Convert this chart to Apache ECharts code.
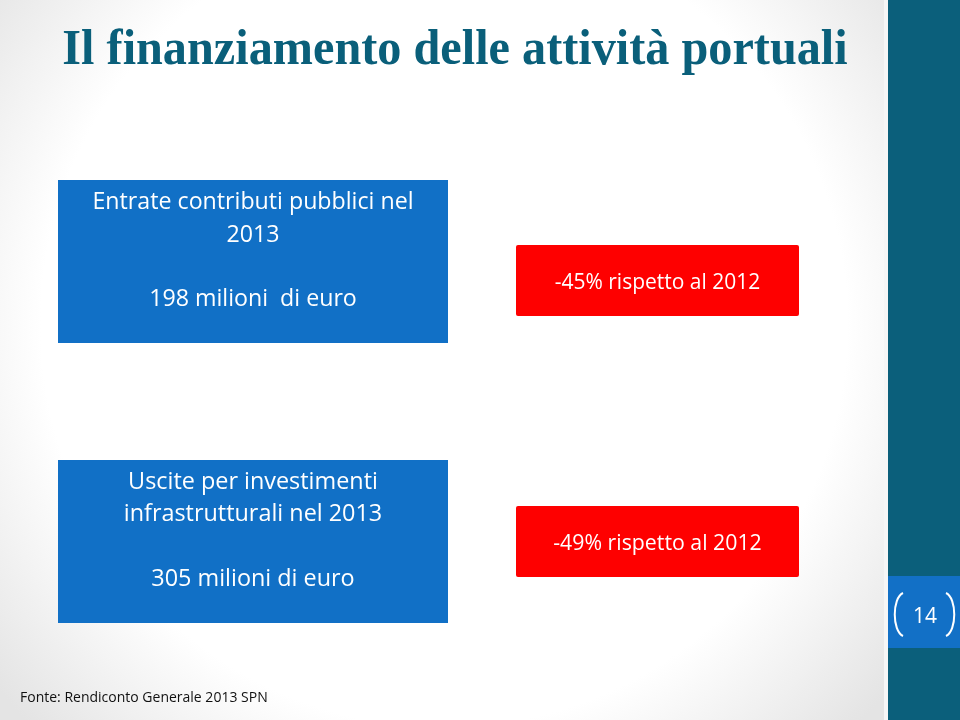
<!DOCTYPE html>
<html>
<head>
<meta charset="utf-8">
<script src="https://cdn.jsdelivr.net/npm/echarts@6/dist/echarts.min.js"></script>
<style>html,body{margin:0;padding:0;background:#fff}#c{width:960px;height:720px}</style>
</head>
<body>
<div id="c"></div>
<script>
const slideTitle = "Il finanziamento delle attività portuali";
const boxTitles = [["Entrate contributi pubblici nel", "2013"], ["Uscite per investimenti", "infrastrutturali nel 2013"]];
const amounts = [198, 305];          // milioni di euro
const amountUnits = ["milioni  di euro", "milioni di euro"];
const changes = [-45, -49];          // % rispetto al 2012
const refYear = 2012;
const source = "Fonte: Rendiconto Generale 2013 SPN";
const pageNumber = "14";

const chart = echarts.init(document.getElementById('c'), null, {renderer: 'canvas'});
const BLUE = '#1170c6', RED = '#fe0000', TEAL = '#0b5f7b';
const bodyFont = '"Open Sans", sans-serif';

const boxes = [
  {x: 58, y: 180, w: 390, h: 163, lines: [202, 235, 299], red: {x: 516, y: 245, w: 283, h: 71, ty: 283}, fs: 23.2, rfs: 21},
  {x: 58, y: 460, w: 390, h: 163, lines: [482, 514, 579], red: {x: 516, y: 506, w: 283, h: 71, ty: 544}, fs: 23.4, rfs: 21.3}
];

const elements = [
  {type: 'rect', shape: {x: 0, y: 0, width: 888, height: 720}, z: 0,
   style: {fill: {type: 'radial', x: 0.5, y: 0.45, r: 0.8,
     colorStops: [{offset: 0, color: '#ffffff'}, {offset: 0.7, color: '#ffffff'}, {offset: 1, color: '#e4e4e4'}]}}},
  {type: 'rect', shape: {x: 884, y: 0, width: 4, height: 720}, z: 1, style: {fill: '#f6f6f6'}},
  {type: 'rect', shape: {x: 888, y: 0, width: 72, height: 720}, z: 1, style: {fill: TEAL}},
  {type: 'rect', shape: {x: 888, y: 576, width: 72, height: 72}, z: 2, style: {fill: '#1270c6'}},
  {type: 'bezierCurve', z: 3, shape: {x1: 903, y1: 593, cpx1: 892, cpy1: 598, cpx2: 892, cpy2: 631, x2: 903, y2: 636},
   style: {fill: null, stroke: '#fff', lineWidth: 2}},
  {type: 'bezierCurve', z: 3, shape: {x1: 946, y1: 593, cpx1: 957, cpy1: 598, cpx2: 957, cpy2: 631, x2: 946, y2: 636},
   style: {fill: null, stroke: '#fff', lineWidth: 2}},
  {type: 'text', z: 3, x: 925, y: 617, style: {text: pageNumber, fill: '#fff', font: '21px ' + bodyFont, align: 'center', verticalAlign: 'middle'}},
  {type: 'text', z: 3, x: 455, y: 51, scaleX: 0.965, originX: 0, originY: 0,
   style: {text: slideTitle, fill: '#0a5f7a', font: 'bold 50px "Liberation Serif", serif', align: 'center', verticalAlign: 'middle'}},
  {type: 'text', z: 3, x: 20, y: 698, style: {text: source, fill: '#111', font: '14px ' + bodyFont, align: 'left', verticalAlign: 'middle'}}
];

boxes.forEach((b, i) => {
  elements.push({type: 'rect', z: 2, shape: {x: b.x, y: b.y, width: b.w, height: b.h}, style: {fill: BLUE}});
  const cx = b.x + b.w / 2;
  const txt = [boxTitles[i][0], boxTitles[i][1], amounts[i] + ' ' + amountUnits[i]];
  txt.forEach((t, k) => {
    elements.push({type: 'text', z: 3, x: cx, y: b.lines[k],
      style: {text: t, fill: '#fff', font: b.fs + 'px ' + bodyFont, align: 'center', verticalAlign: 'middle'}});
  });
  const r = b.red;
  elements.push({type: 'rect', z: 2, shape: {x: r.x, y: r.y, width: r.w, height: r.h, r: 2}, style: {fill: RED}});
  elements.push({type: 'text', z: 3, x: r.x + r.w / 2, y: r.ty,
    style: {text: changes[i] + '% rispetto al ' + refYear, fill: '#fff', font: b.rfs + 'px ' + bodyFont, align: 'center', verticalAlign: 'middle'}});
});

chart.setOption({
  backgroundColor: '#ffffff',
  animation: false,
  graphic: {elements: elements}
});
</script>
</body>
</html>
